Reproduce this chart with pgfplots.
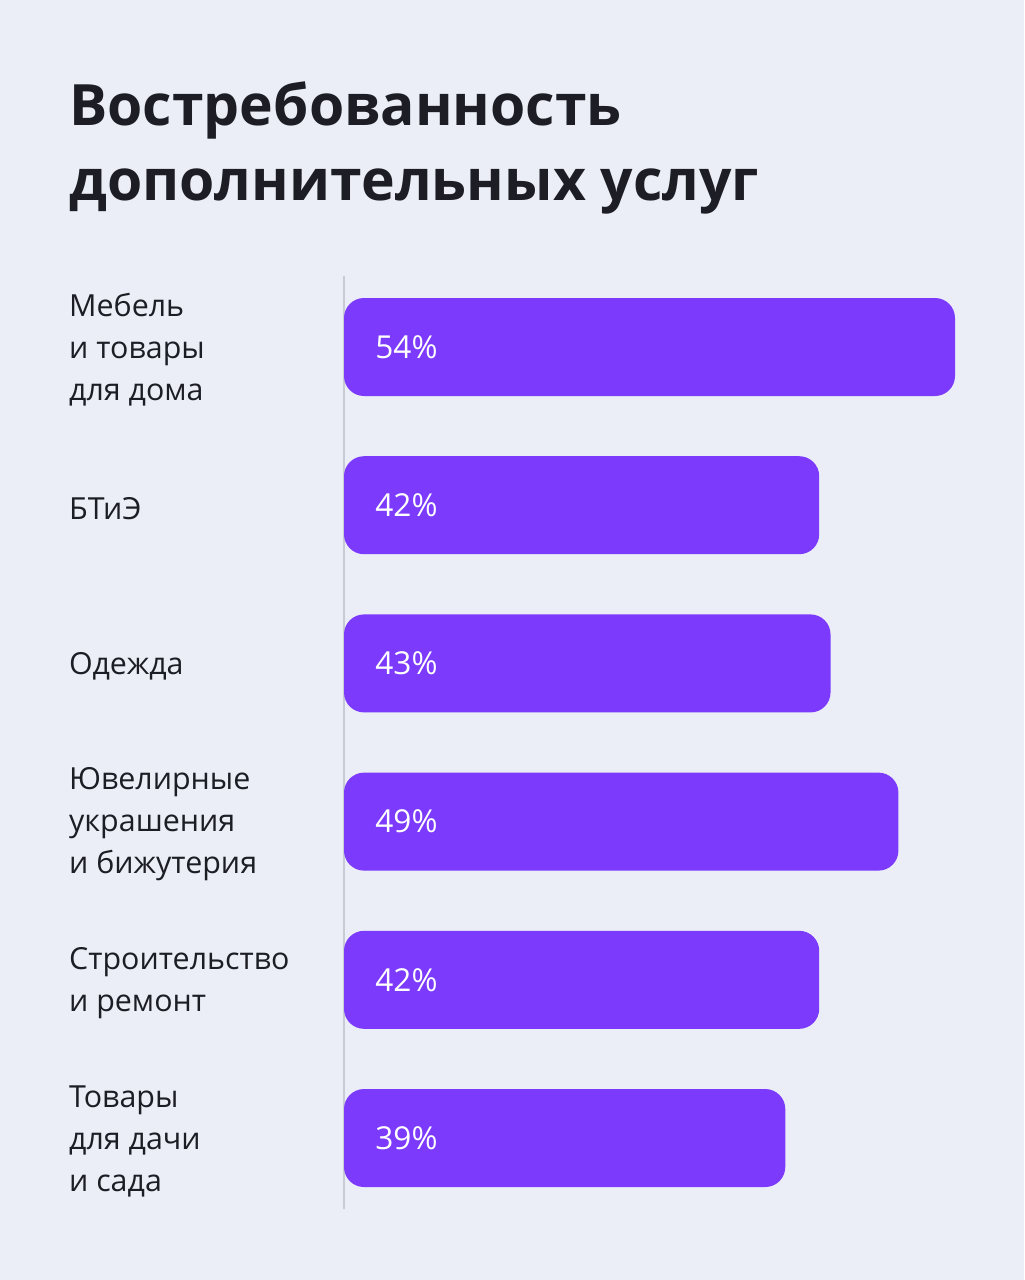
\documentclass[border=0pt]{standalone}
\usepackage{pgfplots}
\pgfplotsset{compat=1.18}
\usepackage{pgfplotstable}
\usepackage{fontspec}
\setmainfont{Open Sans}

\definecolor{bg}{HTML}{EBEEF6}
\definecolor{barc}{HTML}{7C3AFD}
\definecolor{ink}{HTML}{1D1E25}
\definecolor{rulec}{HTML}{C6CBD6}

% share of buyers, %, categories top to bottom
\pgfplotstableread{
y v
0 54
1 42
2 43
3 49
4 42
5 39
}\shares

\begin{document}
\begin{tikzpicture}
\fill[bg] (0pt,0pt) rectangle (512pt,-640pt);
\node[anchor=base west, align=left, inner sep=0pt, text=ink,
      font=\fontsize{28.5}{37.5}\selectfont\bfseries] at (34.5pt,-100pt)
      {Востребованность\\дополнительных услуг};
\begin{axis}[
    at={(172pt,-137.9pt)}, anchor=north west,
    scale only axis,
    width=305.5pt, height=466.7pt,
    xmin=0, xmax=54,
    ymin=-0.45, ymax=5.45,
    y dir=reverse,
    axis x line=none,
    axis y line=left,
    y axis line style={-, draw=rulec, line width=0.75pt},
    ytick={0,...,5},
    ytick style={draw=none},
    yticklabels={{Мебель\\и товары\\для дома}, БТиЭ, Одежда,
                 {Ювелирные\\украшения\\и бижутерия},
                 {Строительство\\и ремонт}, {Товары\\для дачи\\и сада}},
    yticklabel style={anchor=west, xshift=-135.5pt, yshift=-1.5pt,
                      inner sep=0pt, align=left, text=ink,
                      font=\fontsize{15.2}{21}\selectfont},
    /pgf/number format/assume math mode=true,
    clip=false,
  ]
  \addplot[xbar, bar width=49pt, fill=barc, draw=none, rounded corners=10pt]
    table[x=v, y=y] {\shares};
  \addplot[draw=none, mark=none, point meta=explicit,
    nodes near coords={\pgfmathprintnumber{\pgfplotspointmeta}\%},
    nodes near coords style={anchor=west, xshift=15.5pt, inner sep=0pt,
                             text=white, font=\fontsize{15.8}{18}\selectfont}]
    table[x expr=0, y=y, meta=v] {\shares};
\end{axis}
\end{tikzpicture}
\end{document}
